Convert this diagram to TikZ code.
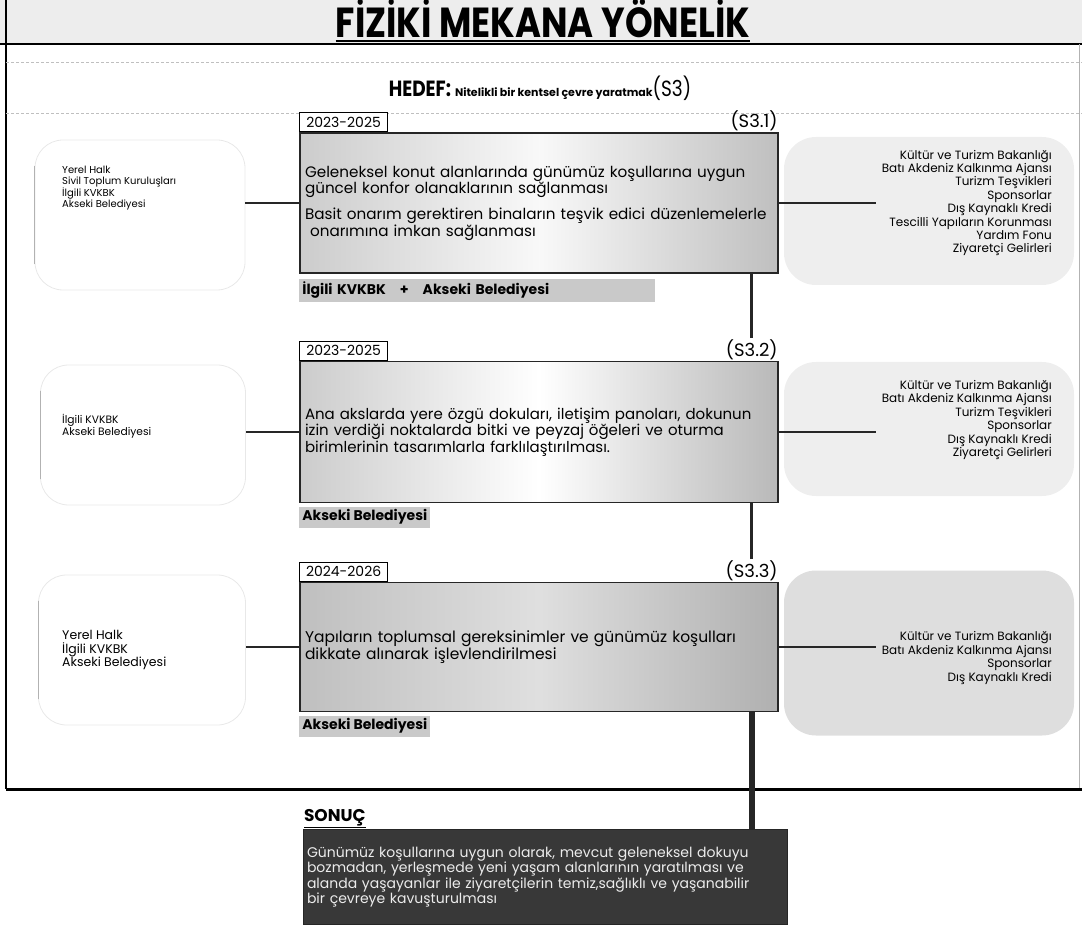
\documentclass[tikz,border=0pt]{standalone}
\usepackage{fontspec}
\setmainfont{Poppins}
\newfontfamily\titlefont[FakeStretch=0.84]{Poppins}
\usetikzlibrary{positioning}

\tikzset{
  taskbox/.style={rectangle, draw=black!85, line width=1.6pt, minimum width=478pt, text width=468pt, inner sep=5pt, align=left},
  yearbox/.style={rectangle, draw=black, line width=0.8pt, fill=white, minimum width=88pt, minimum height=19pt, inner sep=1pt, font=\fontsize{14}{14}\selectfont},
  codelabel/.style={inner sep=1pt, font=\fontsize{18}{18}\selectfont},
  respbox/.style={rectangle, fill=gray!42, inner sep=3pt, minimum height=21pt, font=\bfseries\fontsize{14}{14}\selectfont},
  actorbox/.style={rectangle, rounded corners=28pt, draw=gray!18, line width=0.8pt},
  actortext/.style={anchor=west, align=left, inner sep=2pt},
  fundbg/.style={rectangle, rounded corners=32pt, fill=gray!13},
  fundtext/.style={anchor=east, align=right, inner sep=6pt, font=\fontsize{12}{13.4}\selectfont},
  link/.style={line width=2pt, black!85}
}

\begin{document}
\begin{tikzpicture}[x=1pt, y=-1pt]
\useasboundingbox (0,0) rectangle (1082,933);

% frame
\fill[gray!14] (0,0) rectangle (1082,44);
\draw[line width=2.5pt] (0,44) -- (1082,44);
\draw[line width=2pt] (6,0) -- (6,789);
\draw[gray!60] (1079,44) -- (1079,789);
\draw[line width=3pt] (6,789) -- (1082,789);
\draw[gray!50, densely dashed] (6,62) -- (1082,62);
\draw[gray!50, densely dashed] (6,113) -- (1082,113);

\node (title) [anchor=base, inner sep=0pt] at (543,38) {\titlefont\bfseries\fontsize{42}{42}\selectfont FİZİKİ MEKANA YÖNELİK};
\draw[line width=2.5pt] ([yshift=-3pt]title.base west) -- ([yshift=-3pt]title.base east);
\node (goal) at (540,88) {\titlefont\bfseries\fontsize{22}{22}\selectfont HEDEF:\ \rmfamily\bfseries\fontsize{11}{11}\selectfont Nitelikli bir kentsel çevre yaratmak\titlefont\mdseries\fontsize{22}{22}\selectfont(S3)};

% funding backgrounds
\node (g1) [fundbg, minimum width=290pt, minimum height=148pt] at (929,211) {};
\node (g2) [fundbg, minimum width=290pt, minimum height=134pt] at (929,429) {};
\node (g3) [fundbg, fill=gray!26, minimum width=290pt, minimum height=165pt] at (929,653) {};

% actor outlines
\node (a1) [actorbox, minimum width=210pt, minimum height=150pt] at (140,215) {};
\node (a2) [actorbox, minimum width=205pt, minimum height=140pt] at (143,435) {};
\node (a3) [actorbox, minimum width=207pt, minimum height=150pt] at (142,650) {};
\foreach \a in {a1,a2,a3}
  \draw[gray!60, line width=0.9pt] ([yshift=-26pt]\a.north west) -- ([yshift=26pt]\a.south west);

% stage 1
\node (s1) [taskbox, minimum height=140pt, left color=gray!40, right color=gray!50, middle color=gray!5, font=\fontsize{15.2}{15.5}\selectfont] at (539,203)
  {Geleneksel konut alanlarında günümüz koşullarına uygun\\güncel konfor olanaklarının sağlanması\\[9pt]Basit onarım gerektiren binaların teşvik edici düzenlemelerle\\\ onarımına imkan sağlanması};
\node (y1) [yearbox, above right=0pt and 0pt of s1.north west] {2023-2025};
\node (c1) [codelabel, above left=0pt and 0pt of s1.north east] {(S3.1)};
\node (r1) [respbox, minimum width=356pt, text width=350pt, align=left, below right=5pt and 0pt of s1.south west] {İlgili KVKBK\quad +\quad Akseki Belediyesi};
\node (p1) [actortext, font=\fontsize{10}{10.5}\selectfont] at (60,188) {Yerel Halk\\Sivil Toplum Kuruluşları\\İlgili KVKBK\\Akseki Belediyesi};
\node (f1) [fundtext] at (1058,203) {Kültür ve Turizm Bakanlığı\\Batı Akdeniz Kalkınma Ajansı\\Turizm Teşvikleri\\Sponsorlar\\Dış Kaynaklı Kredi\\Tescilli Yapıların Korunması\\Yardım Fonu\\Ziyaretçi Gelirleri};

% stage 2
\node (s2) [taskbox, minimum height=141pt, left color=gray!40, right color=gray!55, middle color=white, font=\fontsize{15}{14.5}\selectfont] at (539,432)
  {Ana akslarda yere özgü dokuları, iletişim panoları, dokunun\\izin verdiği noktalarda bitki ve peyzaj öğeleri ve oturma\\birimlerinin tasarımlarla farklılaştırılması.};
\node (y2) [yearbox, above right=0pt and 0pt of s2.north west] {2023-2025};
\node (c2) [codelabel, above left=0pt and 0pt of s2.north east] {(S3.2)};
\node (r2) [respbox, below right=3pt and 0pt of s2.south west] {Akseki Belediyesi};
\node (p2) [actortext, font=\fontsize{10.7}{12.5}\selectfont] at (60,426) {İlgili KVKBK\\Akseki Belediyesi};
\node (f2) [fundtext] at (1058,420) {Kültür ve Turizm Bakanlığı\\Batı Akdeniz Kalkınma Ajansı\\Turizm Teşvikleri\\Sponsorlar\\Dış Kaynaklı Kredi\\Ziyaretçi Gelirleri};

% stage 3
\node (s3) [taskbox, minimum height=129pt, left color=gray!50, right color=gray!62, middle color=gray!25, font=\fontsize{15.5}{15}\selectfont] at (539,647)
  {Yapıların toplumsal gereksinimler ve günümüz koşulları\\dikkate alınarak işlevlendirilmesi};
\node (y3) [yearbox, above right=0pt and 0pt of s3.north west] {2024-2026};
\node (c3) [codelabel, above left=0pt and 0pt of s3.north east] {(S3.3)};
\node (r3) [respbox, below right=3pt and 0pt of s3.south west] {Akseki Belediyesi};
\node (p3) [actortext, font=\fontsize{12.5}{13.5}\selectfont] at (60,650) {Yerel Halk\\İlgili KVKBK\\Akseki Belediyesi};
\node (f3) [fundtext] at (1058,658) {Kültür ve Turizm Bakanlığı\\Batı Akdeniz Kalkınma Ajansı\\Sponsorlar\\Dış Kaynaklı Kredi};

% result
\node (res) [rectangle, fill=black!78, draw=black!85, minimum width=484pt, minimum height=95pt, text width=476pt, inner sep=4pt, align=left, text=white!85!gray, font=\fontsize{14}{15.5}\selectfont] at (545,877)
  {Günümüz koşullarına uygun olarak, mevcut geleneksel dokuyu\\bozmadan, yerleşmede yeni yaşam alanlarının yaratılması ve\\alanda yaşayanlar ile ziyaretçilerin temiz,sağlıklı ve yaşanabilir\\bir çevreye kavuşturulması};
\node (sonuc) [above right=0pt and 0pt of res.north west, inner sep=1pt, font=\bfseries\fontsize{17}{17}\selectfont] {\underline{SONUÇ}};

% connectors
\draw[link] (s1.west) -- (s1.west -| a1.east);
\draw[link] (s2.west) -- (s2.west -| a2.east);
\draw[link] (s3.west) -- (s3.west -| a3.east);
\draw[link] (s1.east) -- (s1.east -| f1.west);
\draw[link] (s2.east) -- (s2.east -| f2.west);
\draw[link] (s3.east) -- (s3.east -| f3.west);
\draw[link, line width=3pt] (c2.north) -- (c2.north |- s1.south);
\draw[link, line width=3pt] (c3.north) -- (c3.north |- s2.south);
\draw[link, line width=6pt] (c3.south |- s3.south) -- (c3.south |- res.north);
\end{tikzpicture}
\end{document}
